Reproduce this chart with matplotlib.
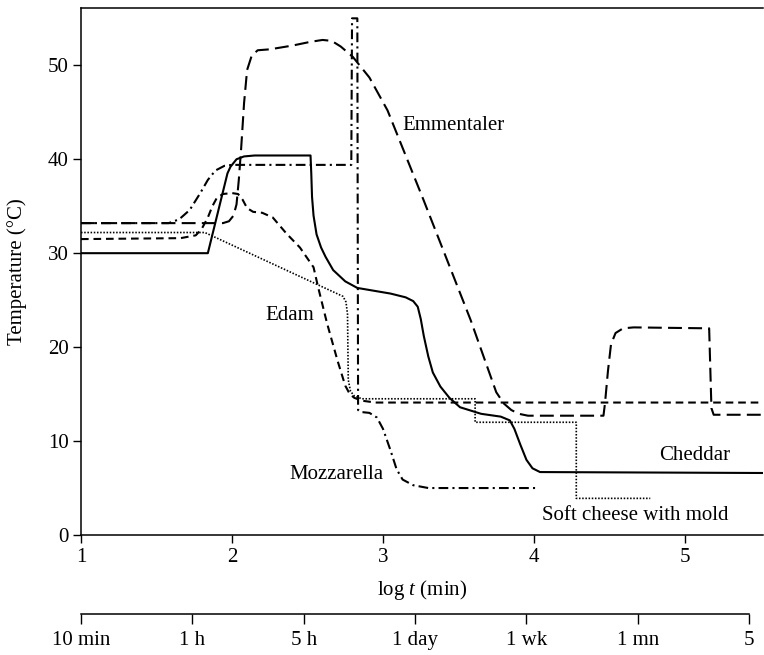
import numpy as np
import matplotlib
matplotlib.use('Agg')
import matplotlib.pyplot as plt

plt.rcParams['font.family'] = ['Liberation Serif', 'DejaVu Serif']
plt.rcParams['mathtext.fontset'] = 'custom'
plt.rcParams['mathtext.it'] = 'Liberation Serif:italic'
plt.rcParams['mathtext.rm'] = 'Liberation Serif'
plt.rcParams['lines.scale_dashes'] = False

# Cheddar (solid)
ched_x = [1.0, 1.84, 1.97, 1.99, 2.03, 2.08, 2.15, 2.52, 2.525, 2.53, 2.54, 2.56, 2.59, 2.62,
          2.67, 2.75, 2.83, 3.05, 3.15, 3.2, 3.23, 3.25, 3.27, 3.30, 3.33, 3.38, 3.44, 3.51,
          3.65, 3.78, 3.84, 3.87, 3.91, 3.95, 3.99, 4.04, 5.52]
ched_y = [30.0, 30.0, 38.5, 39.2, 40.0, 40.3, 40.4, 40.4, 38.5, 36.0, 34.0, 32.0, 30.6, 29.6,
          28.2, 27.0, 26.3, 25.7, 25.3, 24.9, 24.3, 23.0, 21.2, 19.0, 17.3, 15.8, 14.6, 13.6,
          12.9, 12.6, 12.2, 11.3, 9.6, 8.0, 7.1, 6.7, 6.6]

# Emmentaler (long dash)
emm_x = [1.0, 1.94, 1.98, 2.01, 2.03, 2.045, 2.06, 2.08, 2.10, 2.13, 2.17, 2.25, 2.40, 2.52,
         2.60, 2.66, 2.72, 2.80, 2.91, 3.03, 3.11, 3.27, 3.58, 3.75, 3.80, 3.85, 3.90, 3.96,
         4.46, 4.47, 4.49, 4.51, 4.54, 4.59, 4.66, 5.16, 5.175, 5.19, 5.52]
emm_y = [33.2, 33.2, 33.4, 34.0, 35.2, 37.8, 41.0, 46.0, 49.5, 51.0, 51.6, 51.7, 52.1, 52.5,
         52.7, 52.6, 52.0, 50.9, 48.7, 45.2, 42.0, 35.6, 22.9, 15.2, 14.0, 13.3, 12.9, 12.7,
         12.7, 14.0, 17.5, 20.3, 21.5, 22.0, 22.1, 22.0, 13.5, 12.8, 12.8]

# Edam (short dash)
edam_x = [1.0, 1.66, 1.76, 1.80, 1.84, 1.87, 1.90, 1.94, 2.0, 2.04, 2.07, 2.10, 2.14, 2.20,
          2.27, 2.36, 2.45, 2.54, 2.57, 2.63, 2.70, 2.75, 2.78, 2.81, 2.86, 2.95, 5.52]
edam_y = [31.5, 31.6, 31.9, 32.6, 33.8, 35.0, 35.9, 36.3, 36.4, 36.3, 35.7, 34.8, 34.4, 34.3,
          33.8, 32.1, 30.6, 28.5, 26.4, 22.5, 18.5, 15.9, 15.0, 14.6, 14.3, 14.1, 14.1]

# Mozzarella (dash-dot)
moz_x = [1.0, 1.58, 1.65, 1.72, 1.79, 1.84, 1.89, 1.95, 2.0, 2.79, 2.795, 2.83, 2.835, 2.85,
         2.91, 2.96, 3.0, 3.05, 3.09, 3.13, 3.2, 3.3, 4.03]
moz_y = [33.2, 33.2, 33.6, 34.6, 36.4, 37.8, 38.8, 39.3, 39.4, 39.4, 55.0, 55.0, 13.3, 13.1,
         13.0, 12.5, 11.3, 9.0, 7.0, 5.9, 5.3, 5.0, 5.0]

# Soft cheese with mold (dotted)
soft_x = [1.0, 1.82, 2.735, 2.755, 2.765, 2.77, 2.785, 2.81, 2.86, 3.61, 3.61, 4.28, 4.28, 4.77]
soft_y = [32.2, 32.2, 25.4, 24.8, 23.5, 16.5, 15.3, 14.8, 14.5, 14.5, 12.0, 12.0, 3.9, 3.9]

time_labels = ['10 min', '1 h', '5 h', '1 day', '1 wk', '1 mn', '5']

fig = plt.figure(figsize=(7.64, 6.55), dpi=100)
ax = fig.add_axes([81 / 764, 1 - 535 / 655, 682 / 764, 527 / 655])

ax.plot(ched_x, ched_y, color='black', lw=1.5, solid_joinstyle='round')
ax.plot(emm_x, emm_y, color='black', lw=1.5, dashes=(10, 4.5))
ax.plot(edam_x, edam_y, color='black', lw=1.5, dashes=(5.5, 3.5))
ax.plot(moz_x, moz_y, color='black', lw=1.5, dashes=(7, 3, 1.5, 3))
ax.plot(soft_x, soft_y, color='black', lw=1.2, dashes=(1.1, 1.2))

fs = 15
ax.text(3.13, 43.6, 'Emmentaler', fontsize=fs, va='center', ha='left')
ax.text(2.22, 23.4, 'Edam', fontsize=fs, va='center', ha='left')
ax.text(2.38, 6.4, 'Mozzarella', fontsize=fs, va='center', ha='left')
ax.text(4.83, 8.5, 'Cheddar', fontsize=fs, va='center', ha='left')
ax.text(4.05, 2.1, 'Soft cheese with mold', fontsize=fs, va='center', ha='left')

ax.set_xlim(1, 1 + 682 / 151)
ax.set_ylim(0, 56.1)
ax.set_xticks([1, 2, 3, 4, 5])
ax.set_yticks([0, 10, 20, 30, 40, 50])
ax.tick_params(direction='out', length=6, width=1, labelsize=fs, pad=3)
ax.spines['right'].set_visible(False)
for s in ['left', 'bottom', 'top']:
    ax.spines[s].set_linewidth(1.1)
ax.set_xlabel('log $t$ (min)', fontsize=fs, labelpad=8)
ax.set_ylabel('Temperature (°C)', fontsize=fs, labelpad=15)

# time scale axis below
ax2 = fig.add_axes([81 / 764, 1 - 614 / 655, 668 / 764, 0.001])
ax2.set_xlim(0, 6)
ax2.set_xticks(range(len(time_labels)))
ax2.set_xticklabels(time_labels)
ax2.set_yticks([])
for s in ['left', 'right', 'top']:
    ax2.spines[s].set_visible(False)
ax2.spines['bottom'].set_linewidth(1.1)
ax2.tick_params(direction='out', length=7, width=1, labelsize=fs, pad=5)
ax2.patch.set_visible(False)

fig.savefig('out.png', dpi=100)
